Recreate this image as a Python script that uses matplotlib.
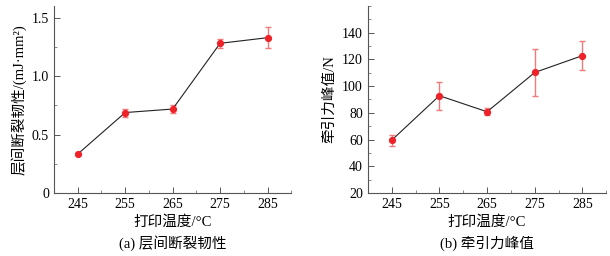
import numpy as np
import matplotlib.pyplot as plt
from matplotlib.ticker import MultipleLocator

plt.rcParams['font.family'] = ['Liberation Serif', 'Noto Sans CJK SC']
plt.rcParams['axes.unicode_minus'] = False

temps = [245, 255, 265, 275, 285]
toughness = [0.333, 0.688, 0.718, 1.280, 1.328]
toughness_err = [0.012, 0.034, 0.032, 0.036, 0.090]
force = [59.5, 92.8, 80.8, 110.2, 122.8]
force_err = [4.2, 10.5, 2.8, 17.6, 10.6]

fig = plt.figure(figsize=(6.1, 2.56), dpi=100)
ax1 = fig.add_axes([0.0885, 0.246, 0.389, 0.731])
ax2 = fig.add_axes([0.603, 0.246, 0.391, 0.731])


def draw(ax, y, err):
    ax.errorbar(temps, y, yerr=err, fmt='none', ecolor='#f27a7a', elinewidth=1.0,
                capsize=2.5, capthick=1.0, zorder=2)
    ax.plot(temps, y, color='#222222', linewidth=0.8, zorder=3)
    ax.plot(temps, y, 'o', color='#ee2229', markersize=4.2, zorder=4)
    ax.set_xlim(240, 290)
    ax.set_xticks(temps)
    ax.xaxis.set_minor_locator(MultipleLocator(5))
    for s in ['top', 'right']:
        ax.spines[s].set_visible(False)
    for s in ['left', 'bottom']:
        ax.spines[s].set_color('#555555')
        ax.spines[s].set_linewidth(0.8)
    ax.tick_params(which='major', direction='in', length=4, width=0.7, color='#555555',
                   labelsize=10)
    ax.tick_params(which='minor', direction='in', length=2, width=0.6, color='#777777')
    ax.set_xlabel('打印温度/°C', fontsize=10.5, labelpad=3)


draw(ax1, toughness, toughness_err)
ax1.set_ylim(0, 1.6)
ax1.set_yticks([0, 0.5, 1.0, 1.5])
ax1.set_yticklabels(['0', '0.5', '1.0', '1.5'])
ax1.yaxis.set_minor_locator(MultipleLocator(0.25))
ax1.set_ylabel('层间断裂韧性/(mJ·mm²)', fontsize=10.5, labelpad=4)

draw(ax2, force, force_err)
ax2.set_ylim(20, 160)
ax2.set_yticks([20, 40, 60, 80, 100, 120, 140])
ax2.yaxis.set_minor_locator(MultipleLocator(10))
ax2.set_ylabel('牵引力峰值/N', fontsize=10.5, labelpad=4)

fig.text(0.283, 0.05, '(a) 层间断裂韧性', ha='center', va='center', fontsize=10.5)
fig.text(0.798, 0.05, '(b) 牵引力峰值', ha='center', va='center', fontsize=10.5)

fig.savefig('out.png', dpi=100)
